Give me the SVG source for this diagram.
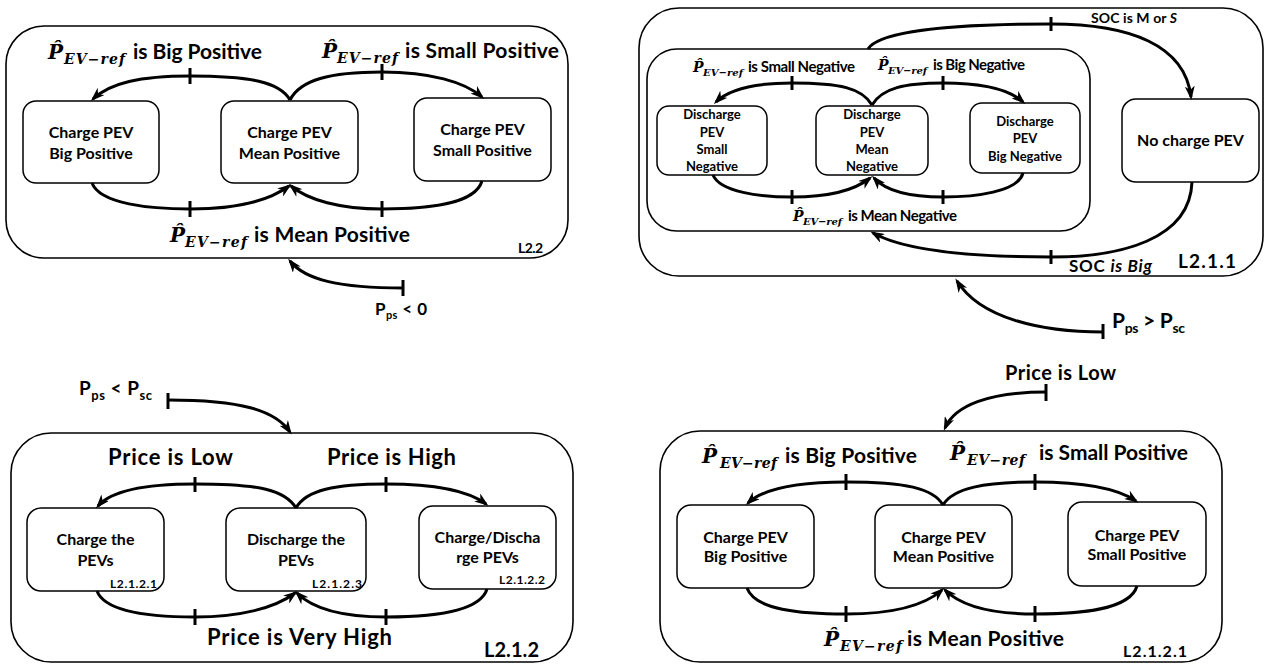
<svg xmlns="http://www.w3.org/2000/svg" width="1266" height="664" viewBox="0 0 1266 664">
<style>
.box{fill:none;stroke:#000;stroke-width:1.6}
.node{fill:#fff;stroke:#000;stroke-width:1.5}
.c{fill:none;stroke:#000;stroke-width:3;marker-end:url(#ah)}
.tk{stroke:#000;stroke-width:3}
text{font-family:Lato,"Liberation Sans",sans-serif;font-weight:700;fill:#000}
.m{font-family:"DejaVu Serif","Liberation Serif",serif;font-style:italic;font-weight:700}
.ctr{text-anchor:middle}
.it{font-style:italic}
</style>
<defs>
<marker id="ah" viewBox="0 0 14 10" refX="11" refY="5" markerWidth="14" markerHeight="10" markerUnits="userSpaceOnUse" orient="auto"><path d="M0,0 L14,5 L0,10 L4,5 z" fill="#000"/></marker>
</defs>
<rect width="1266" height="664" fill="#fff"/>

<!-- ===== Panel L2.2 (top-left) ===== -->
<g id="panel-l2-2">
<rect class="box" x="6" y="26" width="562" height="232" rx="38"/>
<text x="518" y="253" font-size="14" textLength="25">L2.2</text>
<text class="m" x="48" y="59" font-size="20">P&#x302;</text>
<text class="m" x="64" y="64" font-size="14" textLength="61">EV−ref</text>
<text x="133" y="59" font-size="21" textLength="129">is Big Positive</text>
<text class="m" x="322" y="58" font-size="20">P&#x302;</text>
<text class="m" x="337" y="63" font-size="14" textLength="61">EV−ref</text>
<text x="405" y="58" font-size="21" textLength="154">is Small Positive</text>
<text class="m" x="170" y="242" font-size="20">P&#x302;</text>
<text class="m" x="185" y="247" font-size="14" textLength="62">EV−ref</text>
<text x="254" y="242" font-size="21" textLength="156">is Mean Positive</text>
<text x="375" y="315" font-size="17" textLength="52">P<tspan font-size="11" dy="4">ps</tspan><tspan dy="-4"> &lt; 0</tspan></text>
</g>
<g id="tl-big"><rect class="node" x="23" y="101" width="136" height="82" rx="13"/><text class="ctr" x="91" y="138" font-size="16">Charge PEV</text><text class="ctr" x="91" y="159" font-size="16">Big Positive</text></g>
<g id="tl-mean"><rect class="node" x="221" y="101" width="137" height="82" rx="13"/><text class="ctr" x="289.5" y="138" font-size="16">Charge PEV</text><text class="ctr" x="289.5" y="159" font-size="16">Mean Positive</text></g>
<g id="tl-small"><rect class="node" x="414" y="98" width="137" height="83" rx="13"/><text class="ctr" x="482.5" y="135" font-size="16">Charge PEV</text><text class="ctr" x="482.5" y="156" font-size="16">Small Positive</text></g>

<!-- ===== Panel L2.1.1 (top-right) ===== -->
<g id="panel-l2-1-1">
<rect class="box" x="639" y="8" width="624" height="268" rx="40"/>
<text x="1178" y="268" font-size="19" textLength="58">L2.1.1</text>
<text x="1091" y="23" font-size="14" textLength="86">SOC is M or <tspan class="it">S</tspan></text>
<text x="1069" y="272" font-size="17" textLength="83">SOC <tspan class="it">is Big</tspan></text>
<text x="1112" y="328" font-size="21" textLength="73">P<tspan font-size="14" dy="5">ps</tspan><tspan dy="-5"> &gt; P</tspan><tspan font-size="14" dy="5">sc</tspan></text>
</g>
<g id="tr-inner">
<rect class="box" x="647" y="49" width="443" height="182" rx="30"/>
<text class="m" x="693" y="72" font-size="14">P&#x302;</text>
<text class="m" x="703" y="76" font-size="10" textLength="40">EV−ref</text>
<text x="748" y="72" font-size="15" textLength="107">is Small Negative</text>
<text class="m" x="878" y="70" font-size="14">P&#x302;</text>
<text class="m" x="888" y="74" font-size="10" textLength="39">EV−ref</text>
<text x="933" y="70" font-size="15" textLength="92">is Big Negative</text>
<text class="m" x="793" y="221" font-size="14">P&#x302;</text>
<text class="m" x="803" y="225" font-size="10" textLength="39">EV−ref</text>
<text x="848" y="221" font-size="15" textLength="109">is Mean Negative</text>
</g>
<g id="tr-small"><rect class="node" x="657" y="106" width="110" height="69" rx="12"/><text class="ctr" x="712" y="119" font-size="13">Discharge</text><text class="ctr" x="712" y="137" font-size="13">PEV</text><text class="ctr" x="712" y="154" font-size="13">Small</text><text class="ctr" x="712" y="171" font-size="13">Negative</text></g>
<g id="tr-mean"><rect class="node" x="816" y="106" width="112" height="69" rx="12"/><text class="ctr" x="872" y="119" font-size="13">Discharge</text><text class="ctr" x="872" y="137" font-size="13">PEV</text><text class="ctr" x="872" y="154" font-size="13">Mean</text><text class="ctr" x="872" y="171" font-size="13">Negative</text></g>
<g id="tr-big"><rect class="node" x="970" y="103" width="110" height="70" rx="12"/><text class="ctr" x="1025" y="126" font-size="13">Discharge</text><text class="ctr" x="1025" y="143" font-size="13">PEV</text><text class="ctr" x="1025" y="161" font-size="13">Big Negative</text></g>
<g id="tr-nocharge"><rect class="node" x="1122" y="99" width="137" height="83" rx="14"/><text class="ctr" x="1190.5" y="146" font-size="16">No charge PEV</text></g>

<!-- ===== Panel L2.1.2 (bottom-left) ===== -->
<g id="panel-l2-1-2">
<rect class="box" x="11" y="433" width="562" height="229" rx="40"/>
<text x="484" y="657" font-size="20" textLength="55">L2.1.2</text>
<text x="108" y="465" font-size="22" textLength="125">Price is Low</text>
<text x="327" y="465" font-size="22" textLength="129">Price is High</text>
<text x="207" y="645" font-size="22" textLength="185">Price is Very High</text>
<text x="79" y="395" font-size="19" textLength="73">P<tspan font-size="13" dy="5">ps</tspan><tspan dy="-5"> &lt; P</tspan><tspan font-size="13" dy="5">sc</tspan></text>
</g>
<g id="bl-charge"><rect class="node" x="27" y="508" width="137" height="83" rx="14"/><text class="ctr" x="95.5" y="545" font-size="16">Charge the</text><text class="ctr" x="95.5" y="566" font-size="16">PEVs</text><text x="110" y="588" font-size="12" textLength="47">L2.1.2.1</text></g>
<g id="bl-discharge"><rect class="node" x="226" y="508" width="140" height="83" rx="14"/><text class="ctr" x="296" y="545" font-size="16">Discharge the</text><text class="ctr" x="296" y="566" font-size="16">PEVs</text><text x="312" y="588" font-size="12" textLength="50">L2.1.2.3</text></g>
<g id="bl-chdis"><rect class="node" x="419" y="506" width="137" height="83" rx="14"/><text class="ctr" x="487.5" y="543" font-size="16">Charge/Discha</text><text class="ctr" x="487.5" y="563" font-size="16">rge PEVs</text><text x="499" y="584" font-size="12" textLength="46">L2.1.2.2</text></g>

<!-- ===== Panel L2.1.2.1 (bottom-right) ===== -->
<g id="panel-l2-1-2-1">
<rect class="box" x="660" y="431" width="562" height="231" rx="40"/>
<text x="1123" y="657" font-size="16" textLength="64">L2.1.2.1</text>
<text x="1005" y="380" font-size="20" textLength="111">Price is Low</text>
<text class="m" x="702" y="463" font-size="20">P&#x302;</text>
<text class="m" x="720" y="468" font-size="14" textLength="57">EV−ref</text>
<text x="785" y="463" font-size="21" textLength="132">is Big Positive</text>
<text class="m" x="950" y="460" font-size="20">P&#x302;</text>
<text class="m" x="967" y="465" font-size="14" textLength="58">EV−ref</text>
<text x="1039" y="460" font-size="21" textLength="149">is Small Positive</text>
<text class="m" x="824" y="646" font-size="20">P&#x302;</text>
<text class="m" x="840" y="651" font-size="14" textLength="62">EV−ref</text>
<text x="907" y="646" font-size="21" textLength="157">is Mean Positive</text>
</g>
<g id="br-big"><rect class="node" x="677" y="505" width="137" height="83" rx="14"/><text class="ctr" x="745.5" y="543" font-size="16">Charge PEV</text><text class="ctr" x="745.5" y="562" font-size="16">Big Positive</text></g>
<g id="br-mean"><rect class="node" x="875" y="505" width="137" height="83" rx="14"/><text class="ctr" x="943.5" y="543" font-size="16">Charge PEV</text><text class="ctr" x="943.5" y="562" font-size="16">Mean Positive</text></g>
<g id="br-small"><rect class="node" x="1068" y="502" width="138" height="84" rx="14"/><text class="ctr" x="1137" y="541" font-size="16">Charge PEV</text><text class="ctr" x="1137" y="560" font-size="16">Small Positive</text></g>

<!-- ===== Connectors ===== -->
<g id="connectors">
<!-- top-left -->
<path class="c" d="M290,100 C280,82 250,76 190,76 C140,76 110,83 93,99"/>
<path class="c" d="M290,100 C300,80 330,72 382,72 C430,72 465,82 482,97"/>
<path class="c" d="M92,183 C100,204 150,209 190,209 C240,209 270,200 289,186"/>
<path class="c" d="M482,181 C475,204 430,209 382,209 C340,209 308,200 291,186"/>
<path class="c" d="M403,288 C340,288 305,280 290,261"/>
<line class="tk" x1="190" y1="68" x2="190" y2="84"/>
<line class="tk" x1="382" y1="64" x2="382" y2="80"/>
<line class="tk" x1="190" y1="201" x2="190" y2="217"/>
<line class="tk" x1="382" y1="201" x2="382" y2="217"/>
<line class="tk" x1="403" y1="280" x2="403" y2="296"/>
<!-- top-right -->
<path class="c" d="M872,105 C862,88 840,83 792,83 C750,83 728,90 716,102"/>
<path class="c" d="M872,105 C882,88 905,83 943,83 C985,83 1010,90 1023,102"/>
<path class="c" d="M713,175 C720,192 760,197 792,197 C830,197 855,190 870,178"/>
<path class="c" d="M1023,173 C1018,192 975,197 943,197 C905,197 885,190 874,178"/>
<path class="c" d="M868,49 C880,30 960,24 1051,24 C1130,24 1185,45 1191,97"/>
<path class="c" d="M1192,182 C1190,240 1120,257 1051,257 C960,257 900,248 873,233"/>
<path class="c" d="M1103,332 C1040,332 980,318 957,281"/>
<line class="tk" x1="792" y1="76" x2="792" y2="90"/>
<line class="tk" x1="943" y1="76" x2="943" y2="90"/>
<line class="tk" x1="792" y1="190" x2="792" y2="204"/>
<line class="tk" x1="943" y1="190" x2="943" y2="204"/>
<line class="tk" x1="1051" y1="17" x2="1051" y2="31"/>
<line class="tk" x1="1051" y1="250" x2="1051" y2="264"/>
<line class="tk" x1="1103" y1="324" x2="1103" y2="339"/>
<!-- bottom-left -->
<path class="c" d="M296,508 C285,490 260,484 195,484 C140,484 110,492 98,506"/>
<path class="c" d="M296,508 C306,490 335,484 386,484 C440,484 470,492 486,504"/>
<path class="c" d="M97,591 C105,612 150,617 195,617 C240,617 275,608 295,593"/>
<path class="c" d="M487,589 C480,612 430,617 386,617 C340,617 312,608 297,593"/>
<path class="c" d="M168,400 C240,400 275,410 290,432"/>
<line class="tk" x1="195" y1="477" x2="195" y2="492"/>
<line class="tk" x1="386" y1="477" x2="386" y2="492"/>
<line class="tk" x1="195" y1="609" x2="195" y2="625"/>
<line class="tk" x1="386" y1="609" x2="386" y2="625"/>
<line class="tk" x1="168" y1="393" x2="168" y2="409"/>
<!-- bottom-right -->
<path class="c" d="M943,505 C933,488 905,482 846,482 C790,482 762,490 748,503"/>
<path class="c" d="M943,505 C953,488 985,482 1035,482 C1090,482 1120,490 1136,501"/>
<path class="c" d="M747,588 C755,610 800,614 846,614 C895,614 925,605 942,590"/>
<path class="c" d="M1137,586 C1130,610 1080,614 1035,614 C990,614 960,605 945,590"/>
<path class="c" d="M1046,392 C990,392 955,405 945,428"/>
<line class="tk" x1="846" y1="474" x2="846" y2="490"/>
<line class="tk" x1="1035" y1="474" x2="1035" y2="490"/>
<line class="tk" x1="846" y1="606" x2="846" y2="622"/>
<line class="tk" x1="1035" y1="606" x2="1035" y2="622"/>
<line class="tk" x1="1046" y1="384" x2="1046" y2="401"/>
</g>
</svg>
